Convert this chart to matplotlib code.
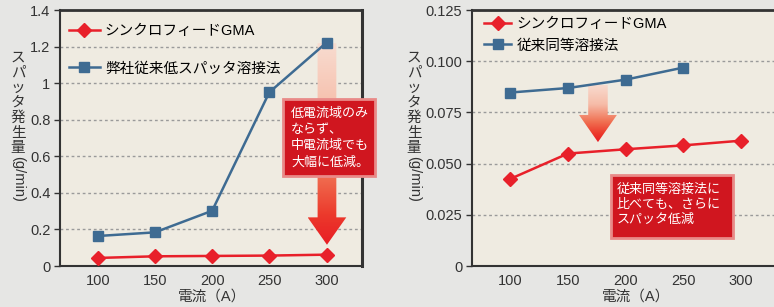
import numpy as np
import matplotlib
matplotlib.use("Agg")
import matplotlib.pyplot as plt
from matplotlib.patches import Polygon, Rectangle
from matplotlib.colors import LinearSegmentedColormap

# ---------------- data ----------------
currents = [100, 150, 200, 250, 300]

left_sync = [0.044, 0.053, 0.055, 0.057, 0.062]
left_conv = [0.164, 0.184, 0.302, 0.950, 1.222]

right_x_conv = [100, 150, 200, 250]
right_sync = [0.0425, 0.0549, 0.0570, 0.0589, 0.0612]
right_conv = [0.0847, 0.0869, 0.0910, 0.0969]

left_yticks = [0, 0.2, 0.4, 0.6, 0.8, 1.0, 1.2, 1.4]
left_ylabels = ["0", "0.2", "0.4", "0.6", "0.8", "1", "1.2", "1.4"]
right_yticks = [0, 0.025, 0.05, 0.075, 0.1, 0.125]
right_ylabels = ["0", "0.025", "0.050", "0.075", "0.100", "0.125"]
xtick_labels = ["100", "150", "200", "250", "300"]

label_sync = "シンクロフィードGMA"
label_left_conv = "弊社従来低スパッタ溶接法"
label_right_conv = "従来同等溶接法"
ylabel_jp = "スパッタ発生量"
ylabel_unit = "(g/min)"
xlabel = "電流（A）"
note_left = "低電流域のみ\nならず、\n中電流域でも\n大幅に低減。"
note_right = "従来同等溶接法に\n比べても、さらに\nスパッタ低減"

# ---------------- style ----------------
JP = ["Liberation Sans", "Noto Sans CJK JP", "DejaVu Sans"]
NUM = ["Liberation Sans", "DejaVu Sans"]
RED = "#e8202a"
BLUE = "#3e6b92"
FIG_BG = "#e6e6e4"
AX_BG = "#efebe1"
DARK = "#333333"

W, H = 774, 307
fig = plt.figure(figsize=(W / 100, H / 100), dpi=100, facecolor=FIG_BG)


def px_axes(l, t, r, b):
    return fig.add_axes([l / W, 1 - b / H, (r - l) / W, (b - t) / H])


axL = px_axes(60, 10, 362, 266)
axR = px_axes(472, 10, 777, 266)

cmap = LinearSegmentedColormap.from_list(
    "arrow", [(0.0, "#f8dcd0"), (0.35, "#f6bca8"), (0.65, "#f07052"),
              (0.85, "#ec3a2c"), (1.0, "#e81c24")])


def grad_arrow(ax, xc, y_top, y_head, y_tip, sw, hw):
    verts = [(xc - sw, y_top), (xc + sw, y_top), (xc + sw, y_head),
             (xc + hw, y_head), (xc, y_tip), (xc - hw, y_head),
             (xc - sw, y_head)]
    poly = Polygon(verts, closed=True, transform=ax.transAxes,
                   facecolor="none", edgecolor="none")
    ax.add_patch(poly)
    grad = np.linspace(0, 1, 256).reshape(-1, 1)
    im = ax.imshow(grad, cmap=cmap, extent=[xc - hw, xc + hw, y_tip, y_top],
                   transform=ax.transAxes, aspect="auto", origin="upper",
                   zorder=1.5, interpolation="bilinear")
    im.set_clip_path(poly)


def note_box(ax, x0, y0, x1, y1, text, tx, ty, ls):
    r = Rectangle((x0, y0), x1 - x0, y1 - y0, transform=ax.transAxes,
                  facecolor="#d0161f", edgecolor="#e98a88", lw=2.0,
                  zorder=5, clip_on=False)
    ax.add_patch(r)
    ax.text(tx, ty, text, transform=ax.transAxes, ha="left", va="top",
            color="white", fontsize=9.4, family=JP, linespacing=ls,
            zorder=6, clip_on=False)


def style_axes(ax, yticks, ylabels, ylim):
    ax.set_facecolor(AX_BG)
    ax.set_xlim(67, 331)
    ax.set_ylim(*ylim)
    ax.set_xticks(currents)
    ax.set_xticklabels(xtick_labels, family=NUM, fontsize=10.5, color=DARK)
    ax.set_yticks(yticks)
    ax.set_yticklabels(ylabels, family=NUM, fontsize=10.5, color=DARK)
    ax.tick_params(axis="x", length=0, pad=6)
    ax.tick_params(axis="y", length=4, width=1, color=DARK, pad=3)
    ax.yaxis.grid(True, linestyle=(0, (2, 2)), color="#9a9a9a", lw=1)
    ax.set_axisbelow(True)
    for s in ax.spines.values():
        s.set_color(DARK)
        s.set_linewidth(1.5)
    ax.spines["right"].set_linewidth(2.2)
    ax.spines["top"].set_linewidth(2.0)


# ---------------- left panel ----------------
style_axes(axL, left_yticks, left_ylabels, (0, 1.4))
grad_arrow(axL, 0.884, 0.87, 0.19, 0.083, 0.031, 0.064)
axL.plot(currents, left_conv, color=BLUE, lw=1.8, marker="s", ms=7.5,
         zorder=3, label=label_left_conv)
axL.plot(currents, left_sync, color=RED, lw=1.8, marker="D", ms=7.5,
         zorder=3.1, label=label_sync)
h, l = axL.get_legend_handles_labels()
axL.legend(h[::-1], l[::-1], loc="upper left", bbox_to_anchor=(0.03, 0.945),
           frameon=False, prop={"family": JP, "size": 10.5},
           handlelength=2.1, handletextpad=0.35, labelspacing=1.6,
           borderaxespad=0, borderpad=0)
note_box(axL, 0.738, 0.352, 1.043, 0.652, note_left, 0.765, 0.618, 1.42)
axL.set_xlim(67, 331)
axL.set_ylim(0, 1.4)

# ---------------- right panel ----------------
style_axes(axR, right_yticks, right_ylabels, (0, 0.125))
grad_arrow(axR, 0.413, 0.707, 0.59, 0.484, 0.032, 0.062)
axR.plot(right_x_conv, right_conv, color=BLUE, lw=1.8, marker="s", ms=7.5,
         zorder=3, label=label_right_conv)
axR.plot(currents, right_sync, color=RED, lw=1.8, marker="D", ms=7.5,
         zorder=3.1, label=label_sync)
h, l = axR.get_legend_handles_labels()
axR.legend(h[::-1], l[::-1], loc="upper left", bbox_to_anchor=(0.04, 0.972),
           frameon=False, prop={"family": JP, "size": 10.5},
           handlelength=1.85, handletextpad=0.35, labelspacing=0.5,
           borderaxespad=0, borderpad=0)
note_box(axR, 0.457, 0.109, 0.857, 0.355, note_right, 0.475, 0.322, 1.33)
axR.set_xlim(67, 331)
axR.set_ylim(0, 0.125)

# ---------------- axis labels ----------------
for cx in (18, 414):
    for i, ch in enumerate(ylabel_jp):
        fig.text(cx / W, 1 - (58 + 15 * i) / H, ch, ha="center", va="center",
                 fontsize=10.5, family=JP, color=DARK)
    fig.text(cx / W, 1 - 179 / H, ylabel_unit, ha="center", va="center",
             rotation=270, fontsize=10.5, family=JP, color=DARK)

fig.text(212 / W, 1 - 297 / H, xlabel, ha="center", va="center",
         fontsize=10.5, family=JP, color=DARK)
fig.text(636 / W, 1 - 297 / H, xlabel, ha="center", va="center",
         fontsize=10.5, family=JP, color=DARK)

fig.savefig("out.png", dpi=100, facecolor=FIG_BG)
